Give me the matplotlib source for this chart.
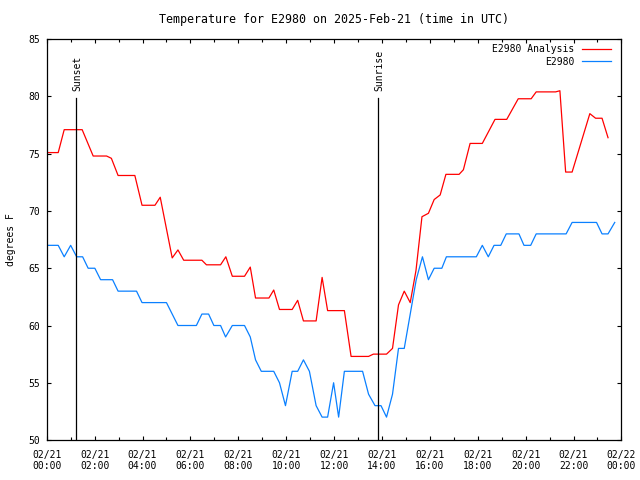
import matplotlib
matplotlib.use('Agg')
import matplotlib.pyplot as plt

# Dane (godziny UTC, stopnie F)
analysis_hours = [0.00, 0.48, 0.73, 1.48, 1.94, 2.50, 2.70, 2.98, 3.68, 3.98,
                  4.52, 4.74, 5.24, 5.48, 5.72, 6.48, 6.67, 7.26, 7.48, 7.75,
                  8.26, 8.50, 8.72, 9.28, 9.48, 9.72, 10.25, 10.48, 10.72, 11.25,
                  11.50, 11.73, 12.43, 12.71, 13.44, 13.64, 14.19, 14.44, 14.69, 14.93,
                  15.18, 15.42, 15.67, 15.94, 16.18, 16.43, 16.67, 17.22, 17.40, 17.68,
                  18.19, 18.72, 19.21, 19.69, 20.23, 20.44, 21.25, 21.43, 21.67, 21.94,
                  22.68, 22.92, 23.19, 23.44]
analysis_temp = [75.1, 75.1, 77.1, 77.1, 74.8, 74.8, 74.6, 73.1, 73.1, 70.5,
                 70.5, 71.2, 65.9, 66.6, 65.7, 65.7, 65.3, 65.3, 66.0, 64.3,
                 64.3, 65.1, 62.4, 62.4, 63.1, 61.4, 61.4, 62.2, 60.4, 60.4,
                 64.2, 61.3, 61.3, 57.3, 57.3, 57.5, 57.5, 58.0, 61.8, 63.0,
                 62.0, 64.8, 69.5, 69.8, 71.0, 71.4, 73.2, 73.2, 73.6, 75.9,
                 75.9, 78.0, 78.0, 79.8, 79.8, 80.4, 80.4, 80.5, 73.4, 73.4,
                 78.5, 78.1, 78.1, 76.4]

obs_hours = [0.00, 0.48, 0.73, 1.00, 1.25, 1.50, 1.73, 2.01, 2.25, 2.75,
             2.98, 3.75, 3.98, 5.00, 5.48, 6.25, 6.48, 6.76, 6.98, 7.26,
             7.47, 7.75, 8.26, 8.50, 8.72, 8.96, 9.48, 9.72, 9.97, 10.25,
             10.48, 10.72, 10.97, 11.25, 11.50, 11.73, 11.98, 12.19, 12.43, 13.19,
             13.44, 13.71, 13.96, 14.19, 14.44, 14.69, 14.93, 15.18, 15.43, 15.69,
             15.94, 16.18, 16.50, 16.69, 17.94, 18.19, 18.44, 18.68, 18.96, 19.19,
             19.72, 19.93, 20.21, 20.44, 21.69, 21.94, 22.96, 23.19, 23.44, 23.72]
obs_temp = [67, 67, 66, 67, 66, 66, 65, 65, 64, 64,
            63, 63, 62, 62, 60, 60, 61, 61, 60, 60,
            59, 60, 60, 59, 57, 56, 56, 55, 53, 56,
            56, 57, 56, 53, 52, 52, 55, 52, 56, 56,
            54, 53, 53, 52, 54, 58, 58, 61, 64, 66,
            64, 65, 65, 66, 66, 67, 66, 67, 67, 68,
            68, 67, 67, 68, 68, 69, 69, 68, 68, 69]

tick_hours = list(range(0, 25, 2))
tick_labels = ['02/21\n%02d:00' % h for h in range(0, 24, 2)] + ['02/22\n00:00']

sunset_hour = 1.22
sunrise_hour = 13.85

plt.rcParams['font.family'] = ['DejaVu Sans Mono']
plt.rcParams['font.size'] = 7

fig = plt.figure(figsize=(6.4, 4.8), dpi=100)
ax = fig.add_axes([0.073, 0.0833, 0.898, 0.835])

ax.plot(analysis_hours, analysis_temp, color='#ff0000', lw=0.9, label='E2980 Analysis')
ax.plot(obs_hours, obs_temp, color='#0a80ff', lw=0.9, label='E2980')

# Linie wschodu i zachodu slonca
for h, name in [(sunset_hour, 'Sunset'), (sunrise_hour, 'Sunrise')]:
    ax.plot([h, h], [50, 79.9], color='black', lw=0.9)
    ax.text(h + 0.05, 80.5, name, rotation=90, ha='center', va='bottom')

ax.set_xlim(0, 24)
ax.set_ylim(50, 85)
ax.set_xticks(tick_hours)
ax.set_xticklabels(tick_labels)
ax.set_xticks(range(1, 24, 2), minor=True)
ax.set_yticks(range(50, 86, 5))
ax.tick_params(which='major', direction='in', length=3, width=0.8,
               top=True, right=True, pad=5)
ax.tick_params(which='minor', direction='in', length=2, width=0.8,
               top=True, right=False, left=False)
ax.tick_params(axis='x', which='major', pad=7)
for s in ax.spines.values():
    s.set_linewidth(0.9)

ax.set_ylabel('degrees F', labelpad=9)
ax.set_title('Temperature for E2980 on 2025-Feb-21 (time in UTC)', pad=12)

ax.legend(loc='upper right', bbox_to_anchor=(0.981, 0.987), frameon=False,
          markerfirst=False, handlelength=2.9, handletextpad=0.8,
          labelspacing=0.25, borderpad=0, borderaxespad=0)

fig.savefig('out.png', dpi=100)
